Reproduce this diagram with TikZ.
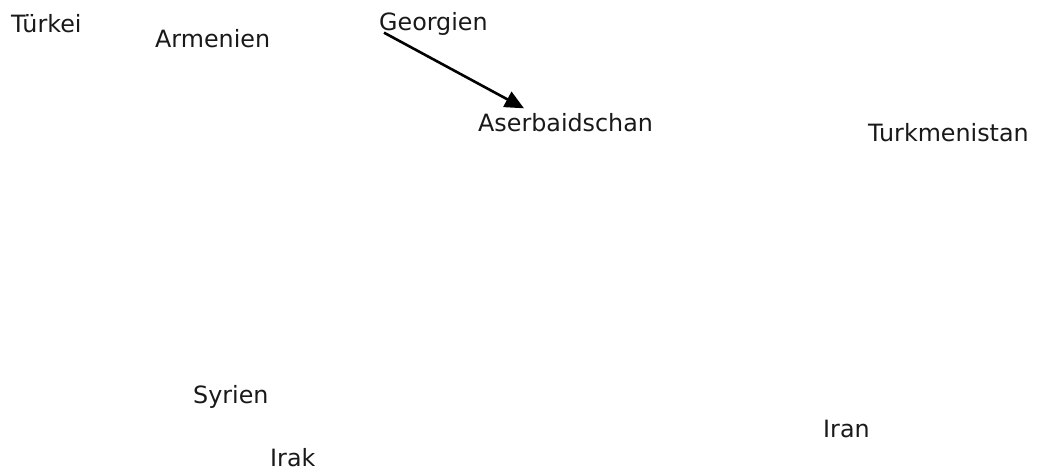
\documentclass[tikz,border=0pt]{standalone}
\usepackage{fontspec}
\setmainfont{DejaVu Sans}
\usetikzlibrary{arrows.meta}
\begin{document}
\begin{tikzpicture}[x=1pt,y=-1pt,
  lbl/.style={anchor=base west,inner sep=0pt,font=\fontsize{23.8pt}{28pt}\selectfont,text=black!90},
  arr/.style={line width=2.6pt,-{Triangle[length=19pt,width=17pt]}}]
\useasboundingbox (0,0) rectangle (1039,472);
\node[lbl] (tur) at (11,32) {Türkei};
\node[lbl] (arm) at (155,47) {Armenien};
\node[lbl] (geo) at (379,30) {Georgien};
\node[lbl] (ase) at (478,131) {Aserbaidschan};
\node[lbl] (tkm) at (868,141) {Turkmenistan};
\node[lbl] (syr) at (193,403) {Syrien};
\node[lbl] (irn) at (823,437) {Iran};
\node[lbl] (irq) at (270,466) {Irak};
\draw[arr] ([xshift=5pt,yshift=2.5pt]geo.south west) -- ([xshift=46pt,yshift=4.4pt]ase.north west);
\end{tikzpicture}
\end{document}
